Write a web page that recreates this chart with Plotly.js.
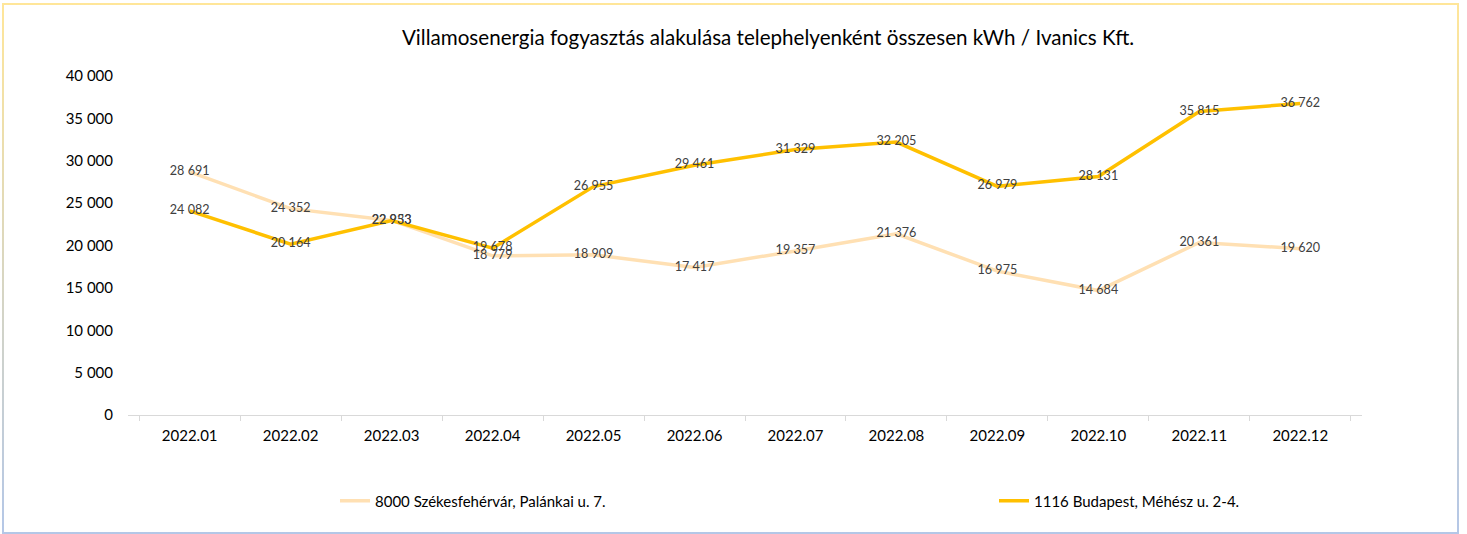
<!DOCTYPE html>
<html>
<head>
<meta charset="utf-8">
<script src="https://cdn.plot.ly/plotly-3.0.1.min.js"></script>
<style>
html,body{margin:0;padding:0;background:#fff;}
#frame{position:absolute;left:2px;top:3px;width:1453px;height:527px;border:2px solid transparent;
border-image:linear-gradient(to bottom,#FFE699,#B4C7E7) 1;pointer-events:none;}
#chart{position:absolute;left:0;top:0;width:1467px;height:534px;}
</style>
</head>
<body>
<div id="chart"></div>
<div id="frame"></div>
<script>
const months = ["2022.01","2022.02","2022.03","2022.04","2022.05","2022.06","2022.07","2022.08","2022.09","2022.10","2022.11","2022.12"];
const szekesfehervar = [28691,24352,22953,18779,18909,17417,19357,21376,16975,14684,20361,19620];
const budapest = [24082,20164,22933,19678,26955,29461,31329,32205,26979,28131,35815,36762];
const seriesNames = ["8000 Székesfehérvár, Palánkai u. 7.","1116 Budapest, Méhész u. 2-4."];
const titleText = "Villamosenergia fogyasztás alakulása telephelyenként összesen kWh / Ivanics Kft.";
const yTicks = [0,5000,10000,15000,20000,25000,30000,35000,40000];

const font = "Lato, 'Open Sans', sans-serif";
const lbl = {family: font, size: 12.6, color: "#404040"};

const traces = [
  {x: months, y: szekesfehervar, name: seriesNames[0], type: "scatter", mode: "lines+text",
   line: {color: "#FFE0B3", width: 3.5}, text: szekesfehervar, texttemplate: "%{y:,}",
   textposition: "middle center", textfont: lbl, hoverinfo: "skip", legendwidth: 614},
  {x: months, y: budapest, name: seriesNames[1], type: "scatter", mode: "lines+text",
   line: {color: "#FFC000", width: 3.5}, text: budapest, texttemplate: "%{y:,}",
   textposition: "middle center", textfont: lbl, hoverinfo: "skip"}
];

const layout = {
  width: 1467, height: 534,
  paper_bgcolor: "#fff", plot_bgcolor: "#fff",
  separators: ", ",
  margin: {l: 128, r: 105, t: 76, b: 119, pad: 0},
  title: {text: titleText, x: 768/1467, xanchor: "center", y: 1 - 38/534, yanchor: "middle",
          font: {family: font, size: 20.6, color: "#000"}},
  xaxis: {type: "category", showgrid: false, showline: true, linecolor: "#D9D9D9", linewidth: 1,
          ticks: "outside", tickson: "boundaries", ticklen: 5, tickcolor: "#D9D9D9",
          ticklabelstandoff: 7,
          tickfont: {family: font, size: 15, color: "#000"}, zeroline: false, fixedrange: true},
  yaxis: {range: [0, 40000], tickvals: yTicks, tickformat: ",d", showgrid: false, showline: false,
          zeroline: false, ticks: "", ticklabelstandoff: 14,
          tickfont: {family: font, size: 15, color: "#000"}, fixedrange: true},
  showlegend: true,
  legend: {orientation: "h", x: (335-128)/1234, xanchor: "left", y: -(501-415)/339, yanchor: "middle",
           font: {family: font, size: 15, color: "#000"}, traceorder: "normal"}
};

Plotly.newPlot("chart", traces, layout, {displayModeBar: false, staticPlot: true});
</script>
</body>
</html>
